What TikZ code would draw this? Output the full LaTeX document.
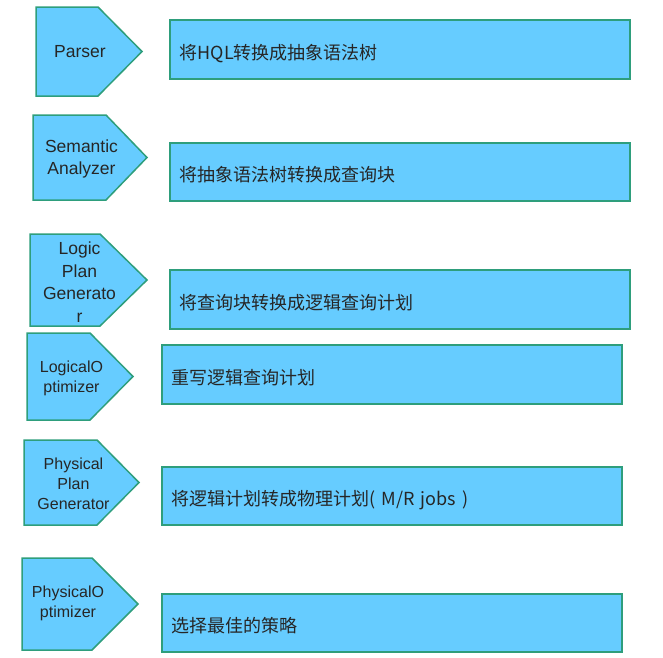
\documentclass[tikz,border=0pt]{standalone}
\usepackage{fontspec}
\setmainfont{Liberation Sans}
\newfontfamily\cjk{Noto Sans CJK SC}
\usepackage{tikz}
\usepackage{xcolor}
\usetikzlibrary{positioning}
\definecolor{boxfill}{HTML}{66CCFF}
\definecolor{boxline}{HTML}{2E9E7C}
\newcommand{\bigstage}{\fontsize{17.5}{22.5}\selectfont}
\newcommand{\smallstage}{\fontsize{16}{20}\selectfont}

\tikzset{
  stage/.style={draw=boxline, fill=boxfill, line width=1.5pt},
  stagetext/.style={align=center, inner sep=0pt, text=black!85},
  task/.style={draw=boxline, fill=boxfill, line width=1.5pt, anchor=north west,
    minimum width=460pt, minimum height=59pt, text width=440pt, inner xsep=10pt,
    text height=22pt, text depth=2pt,
    align=left, text=black!85, font=\cjk\fontsize{18}{22}\selectfont}
}

\begin{document}
\begin{tikzpicture}[x=1pt, y=-1pt]
                \useasboundingbox (0,0) rectangle (663,657);

                \draw[stage] (36,7) -- (98,7) -- (142,51.5) -- (98,96) -- (36,96) -- cycle;
                \draw[stage] (33,115) -- (106,115) -- (147,157.5) -- (106,200) -- (33,200) -- cycle;
                \draw[stage] (30,234) -- (100,234) -- (147,280) -- (100,326) -- (30,326) -- cycle;
                \draw[stage] (27,333) -- (90,333) -- (133,376.5) -- (90,420) -- (27,420) -- cycle;
                \draw[stage] (24,440) -- (97,440) -- (139,482.5) -- (97,525) -- (24,525) -- cycle;
                \draw[stage] (22,558) -- (92,558) -- (138,604) -- (92,650) -- (22,650) -- cycle;

                \node [stagetext, font=\bigstage] (parser) at (80,52) {Parser};
                \node [stagetext, font=\bigstage] (semantic) at (81.5,159) {Semantic\\Analyzer};
                \node [stagetext, font=\bigstage] (logicgen) at (79.5,282) {Logic\\Plan\\Generato\\r};
                \node [stagetext, font=\smallstage] (logicopt) at (71.5,378) {LogicalO\\ptimizer};
                \node [stagetext, font=\smallstage] (physgen) at (73.5,484) {Physical\\Plan\\Generator};
                \node [stagetext, font=\smallstage] (physopt) at (68,603) {PhysicalO\\ptimizer};

                \node [task] (t1) at (169,19) {将HQL转换成抽象语法树};
                \node [task, minimum height=58pt] (t2) at (169,142) {将抽象语法树转换成查询块};
                \node [task] (t3) at (169,269) {将查询块转换成逻辑查询计划};
                \node [task, minimum width=459pt] (t4) at (161,344) {重写逻辑查询计划};
                \node [task, minimum width=459pt, minimum height=58pt] (t5) at (161,466) {将逻辑计划转成物理计划( M/R jobs )};
                \node [task, minimum width=459pt, minimum height=58pt] (t6) at (161,593) {选择最佳的策略};
            \end{tikzpicture}
\end{document}
